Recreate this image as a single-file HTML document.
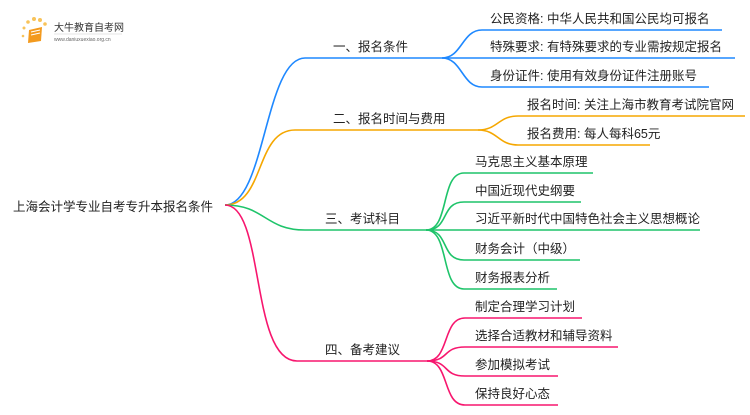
<!DOCTYPE html>
<html><head><meta charset="utf-8"><style>
body{margin:0;background:#fff;}
svg text{font-family:"Liberation Sans","Noto Sans CJK SC",sans-serif;fill:#222;}
</style></head><body>
<svg width="750" height="410" viewBox="0 0 750 410" xmlns="http://www.w3.org/2000/svg">
<g>
<circle cx="24" cy="28" r="1.5" fill="#f8c35a"/><circle cx="28" cy="22" r="1.8" fill="#f8c35a"/>
<circle cx="34" cy="19" r="2" fill="#f8c35a"/><circle cx="40" cy="20" r="2" fill="#f8c35a"/>
<circle cx="45" cy="24" r="1.8" fill="#f8c35a"/><circle cx="23" cy="36" r="1.3" fill="#f8c35a"/>
<path d="M29 30 L42 27 L41 41 L28 43 Z" fill="#f39a1e"/>
<path d="M31 32 L40 30 M31 35 L40 33" stroke="#fff" stroke-width="1"/>
<text x="54" y="31" font-size="10" style="fill:#333">大牛教育自考网</text>
<line x1="54" y1="34" x2="122" y2="34" stroke="#ccc" stroke-width="0.5"/>
<text x="54" y="41" font-size="5" style="fill:#666">www.daniuxuexiao.org.cn</text>
</g>
<g fill="none" stroke-width="1.6">
<g stroke="#1e88ff">
<path d="M225,205 C265,205 265,58 305,58 L442,58"/>
<path d="M442,58 C462,58 462,30 482,30 L722,30"/>
<path d="M442,58 L735,58"/>
<path d="M442,58 C462,58 462,87 482,87 L709,87"/>
</g>
<g stroke="#f5a700">
<path d="M225,205 C265,205 255,130 295,130 L478,130"/>
<path d="M478,130 C498,130 498,116 518,116 L745,116"/>
<path d="M478,130 C498,130 498,145 518,145 L650,145"/>
</g>
<g stroke="#1ec46a">
<path d="M225,205 C265,205 265,230 305,230 L426,230"/>
<path d="M426,230 C450,230 440,173 464,173 L593,173"/>
<path d="M426,230 C450,230 440,202 464,202 L581,202"/>
<path d="M426,230 L700,230"/>
<path d="M426,230 C450,230 440,260 464,260 L580,260"/>
<path d="M426,230 C450,230 440,289 464,289 L557,289"/>
</g>
<g stroke="#f7166e">
<path d="M225,205 C265,205 250,361 297,361 L427,361"/>
<path d="M427,361 C450,361 442,318 465,318 L582,318"/>
<path d="M427,361 C450,361 442,347 465,347 L618,347"/>
<path d="M427,361 C450,361 442,376 465,376 L558,376"/>
<path d="M427,361 C450,361 442,405 465,405 L558,405"/>
</g>
</g>
<g font-size="12.5">
<text x="13" y="211">上海会计学专业自考专升本报名条件</text>
<text x="333" y="51">一、报名条件</text>
<text x="333" y="123">二、报名时间与费用</text>
<text x="325" y="223">三、考试科目</text>
<text x="325" y="354">四、备考建议</text>
<text x="490" y="23">公民资格: 中华人民共和国公民均可报名</text>
<text x="490" y="51">特殊要求: 有特殊要求的专业需按规定报名</text>
<text x="490" y="80">身份证件: 使用有效身份证件注册账号</text>
<text x="527" y="109">报名时间: 关注上海市教育考试院官网</text>
<text x="527" y="138">报名费用: 每人每科65元</text>
<text x="475" y="166">马克思主义基本原理</text>
<text x="475" y="195">中国近现代史纲要</text>
<text x="475" y="223">习近平新时代中国特色社会主义思想概论</text>
<text x="475" y="253">财务会计（中级）</text>
<text x="475" y="282">财务报表分析</text>
<text x="475" y="311">制定合理学习计划</text>
<text x="475" y="340">选择合适教材和辅导资料</text>
<text x="475" y="369">参加模拟考试</text>
<text x="475" y="398">保持良好心态</text>
</g>
</svg>
</body></html>
